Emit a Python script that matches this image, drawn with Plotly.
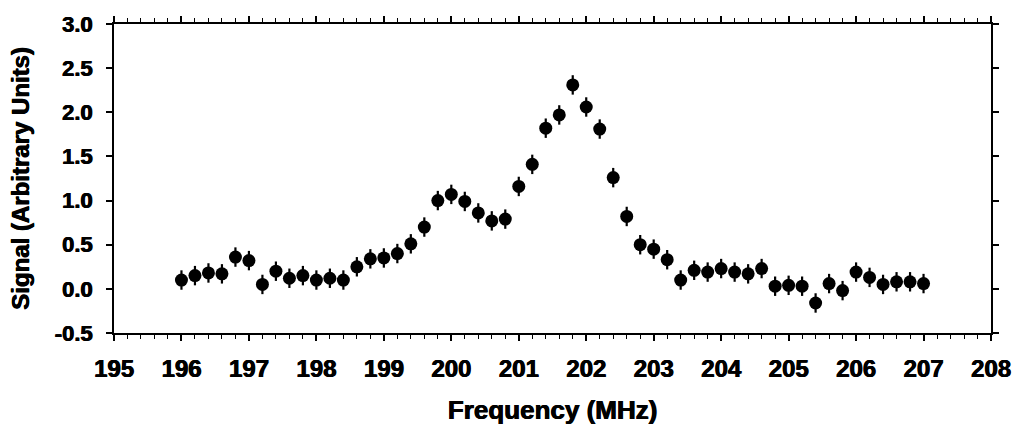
import plotly.graph_objects as go

# Frequency scan, 0.2 MHz steps
freq_mhz = [196.0 + 0.2 * i for i in range(56)]
signal = [0.10, 0.15, 0.18, 0.17, 0.36, 0.32, 0.05, 0.20, 0.12, 0.15,
          0.10, 0.12, 0.10, 0.25, 0.34, 0.35, 0.40, 0.51, 0.70, 1.00,
          1.07, 0.99, 0.86, 0.77, 0.79, 1.16, 1.41, 1.82, 1.97, 2.31,
          2.06, 1.81, 1.26, 0.82, 0.50, 0.45, 0.33, 0.10, 0.21, 0.19,
          0.23, 0.19, 0.17, 0.23, 0.03, 0.04, 0.03, -0.16, 0.06, -0.02,
          0.19, 0.13, 0.05, 0.08, 0.08, 0.06]
signal_err = [0.11] * len(signal)

y_ticks = [-0.5, 0.0, 0.5, 1.0, 1.5, 2.0, 2.5, 3.0]
y_ticktext = [f"{v:.1f}" for v in y_ticks]
x_ticks = list(range(195, 209))

FONT = "Liberation Sans, Arial, sans-serif"
HEAVY = "0.6px 0 0 black, -0.3px 0 0 black"


def font(size):
    return dict(family=FONT, size=size, color="black", weight="bold",
                shadow=HEAVY)


fig = go.Figure()
fig.add_trace(go.Scatter(
    x=freq_mhz, y=signal, mode="markers",
    marker=dict(color="black", size=13, line=dict(width=0)),
    error_y=dict(type="data", array=signal_err, visible=True,
                 color="black", thickness=2.2, width=0),
    showlegend=False,
))

axis_common = dict(
    showline=True, linecolor="black", linewidth=2, mirror="ticks",
    ticks="outside", tickcolor="black", tickwidth=1.5, ticklen=6,
    showgrid=False, zeroline=False,
)

fig.update_xaxes(
    range=[195, 208], tickvals=x_ticks,
    ticktext=[str(v) for v in x_ticks],
    tickfont=font(24), ticklabelstandoff=7,
    minor=dict(dtick=0.2, tick0=195, ticks="outside", ticklen=4,
               tickcolor="black", tickwidth=1.2),
    title=dict(text="Frequency (MHz)", standoff=20, font=font(26)),
    **axis_common,
)
fig.update_yaxes(
    range=[-0.5, 3.0], tickvals=y_ticks, ticktext=y_ticktext,
    tickfont=font(22), ticklabelstandoff=9,
    title=dict(text="Signal (Arbitrary Units)", standoff=18, font=font(24)),
    **axis_common,
)

fig.update_layout(
    width=1023, height=438,
    margin=dict(l=114, r=30, t=18, b=105),
    paper_bgcolor="white", plot_bgcolor="white",
)

fig.write_html("out.html")
